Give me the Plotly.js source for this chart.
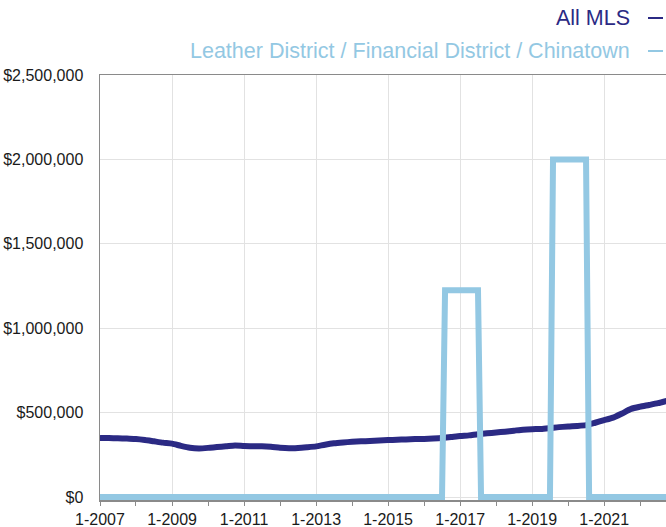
<!DOCTYPE html>
<html>
<head>
<meta charset="utf-8">
<script src="https://cdn.plot.ly/plotly-3.0.1.min.js"></script>
<style>html,body{margin:0;padding:0;background:#fff;}#chart{width:666px;height:527px;}</style>
</head>
<body>
<div id="chart"></div>
<script>
// All MLS median sale price (quarterly)
const mlsDates = ['2007-01-01','2007-04-01','2007-07-01','2007-10-01','2008-01-01','2008-04-01','2008-07-01','2008-10-01',
'2009-01-01','2009-04-01','2009-07-01','2009-10-01','2010-01-01','2010-04-01','2010-07-01','2010-10-01',
'2011-01-01','2011-04-01','2011-07-01','2011-10-01','2012-01-01','2012-04-01','2012-07-01','2012-10-01',
'2013-01-01','2013-04-01','2013-07-01','2013-10-01','2014-01-01','2014-04-01','2014-07-01','2014-10-01',
'2015-01-01','2015-04-01','2015-07-01','2015-10-01','2016-01-01','2016-04-01','2016-07-01','2016-10-01',
'2017-01-01','2017-04-01','2017-07-01','2017-10-01','2018-01-01','2018-04-01','2018-07-01','2018-10-01',
'2019-01-01','2019-04-01','2019-07-01','2019-10-01','2020-01-01','2020-04-01','2020-07-01','2020-10-01',
'2021-01-01','2021-04-01','2021-07-01','2021-10-01','2022-01-01','2022-04-01','2022-07-01','2022-10-01'];
const mlsValues = [350000,349000,348000,346000,344000,338000,330000,322000,
316000,303000,292000,288000,291000,296000,300000,305000,
302000,301000,301000,298000,292000,289000,291000,295000,
300000,310000,318000,323000,327000,330000,332000,335000,
337000,339000,341000,343000,344000,346000,349000,355000,
361000,365000,372000,377000,382000,387000,393000,399000,
402000,403000,408000,414000,418000,421000,426000,440000,
455000,470000,495000,522000,535000,545000,556000,570000];

// Leather District / Financial District / Chinatown (monthly breakpoints)
const ldDates = ['2007-01-01','2016-07-01','2016-08-01','2017-07-01','2017-08-01','2019-07-01','2019-08-01','2020-07-01','2020-08-01','2022-10-01'];
const ldValues = [0,0,1225000,1225000,0,0,2000000,2000000,0,0];

const seriesNames = ['All MLS','Leather District / Financial District / Chinatown'];
const yTickVals = [0,500000,1000000,1500000,2000000,2500000];
const yTickText = ['$0','$500,000','$1,000,000','$1,500,000','$2,000,000','$2,500,000'];

const darkColor = '#2b2a84';
const lightColor = '#93c8e3';
const font = 'Liberation Sans, Arial, Helvetica, sans-serif';

const traces = [
  {x: mlsDates, y: mlsValues, type:'scatter', mode:'lines', name: seriesNames[0],
   line:{color:darkColor, width:6, shape:'spline', smoothing:0.6}, showlegend:false, hoverinfo:'skip'},
  {x: ldDates, y: ldValues, type:'scatter', mode:'lines', name: seriesNames[1],
   line:{color:lightColor, width:6}, showlegend:false, hoverinfo:'skip'}
];

// plot area: top 75, bottom 500 (0 at 497)
const plotTop = 75, plotBot = 500, plotH = plotBot - plotTop;
const yMax = 2500000;
const yMin = -yMax * 3 / 422;
const py = p => (plotBot - p) / plotH;   // pixel -> paper y
const px = p => (p - 100) / 566;         // pixel -> paper x

const layout = {
  width: 666, height: 527,
  margin: {l:100, r:0, t:plotTop, b:527-plotBot},
  paper_bgcolor:'#fff', plot_bgcolor:'#fff',
  font: {family: font, size: 16, color:'#1a1a1a'},
  xaxis: {
    type:'date', range:['2007-01-01','2022-09-20'],
    tick0:'2007-01-01', dtick:'M24', tickformat:'%-m-%Y',
    showgrid:true, gridcolor:'#e2e2e2', gridwidth:1,
    showline:true, linecolor:'#8a8a8a', linewidth:1.5, mirror:true,
    ticks:'outside', ticklen:4, tickcolor:'#8a8a8a', tickwidth:1,
    minor:{dtick:'M12', tick0:'2007-01-01', ticks:'outside', ticklen:4, tickcolor:'#8a8a8a', tickwidth:1, showgrid:false},
    tickfont:{family:font, size:16, color:'#1a1a1a'},
    zeroline:false, fixedrange:true
  },
  yaxis: {
    range:[yMin, yMax], tickvals:yTickVals, ticktext:yTickText,
    showgrid:true, gridcolor:'#e2e2e2', gridwidth:1,
    showline:true, linecolor:'#8a8a8a', linewidth:1.5,
    ticks:'', ticklabelstandoff:12,
    tickfont:{family:font, size:16, color:'#1a1a1a'},
    zeroline:false, fixedrange:true
  },
  annotations: [
    {xref:'paper', yref:'paper', x:px(632), y:py(18), xanchor:'right', yanchor:'middle',
     text: seriesNames[0], showarrow:false, font:{family:font, size:21.5, color:darkColor}},
    {xref:'paper', yref:'paper', x:px(632), y:py(51), xanchor:'right', yanchor:'middle',
     text: seriesNames[1], showarrow:false, font:{family:font, size:21.5, color:lightColor}}
  ],
  shapes: [
    {type:'line', xref:'paper', yref:'paper', x0:px(648), x1:px(663), y0:py(18), y1:py(18), line:{color:darkColor, width:2}},
    {type:'line', xref:'paper', yref:'paper', x0:px(648), x1:px(663), y0:py(51), y1:py(51), line:{color:lightColor, width:2}}
  ]
};

Plotly.newPlot('chart', traces, layout, {displayModeBar:false, staticPlot:true});
</script>
</body>
</html>
